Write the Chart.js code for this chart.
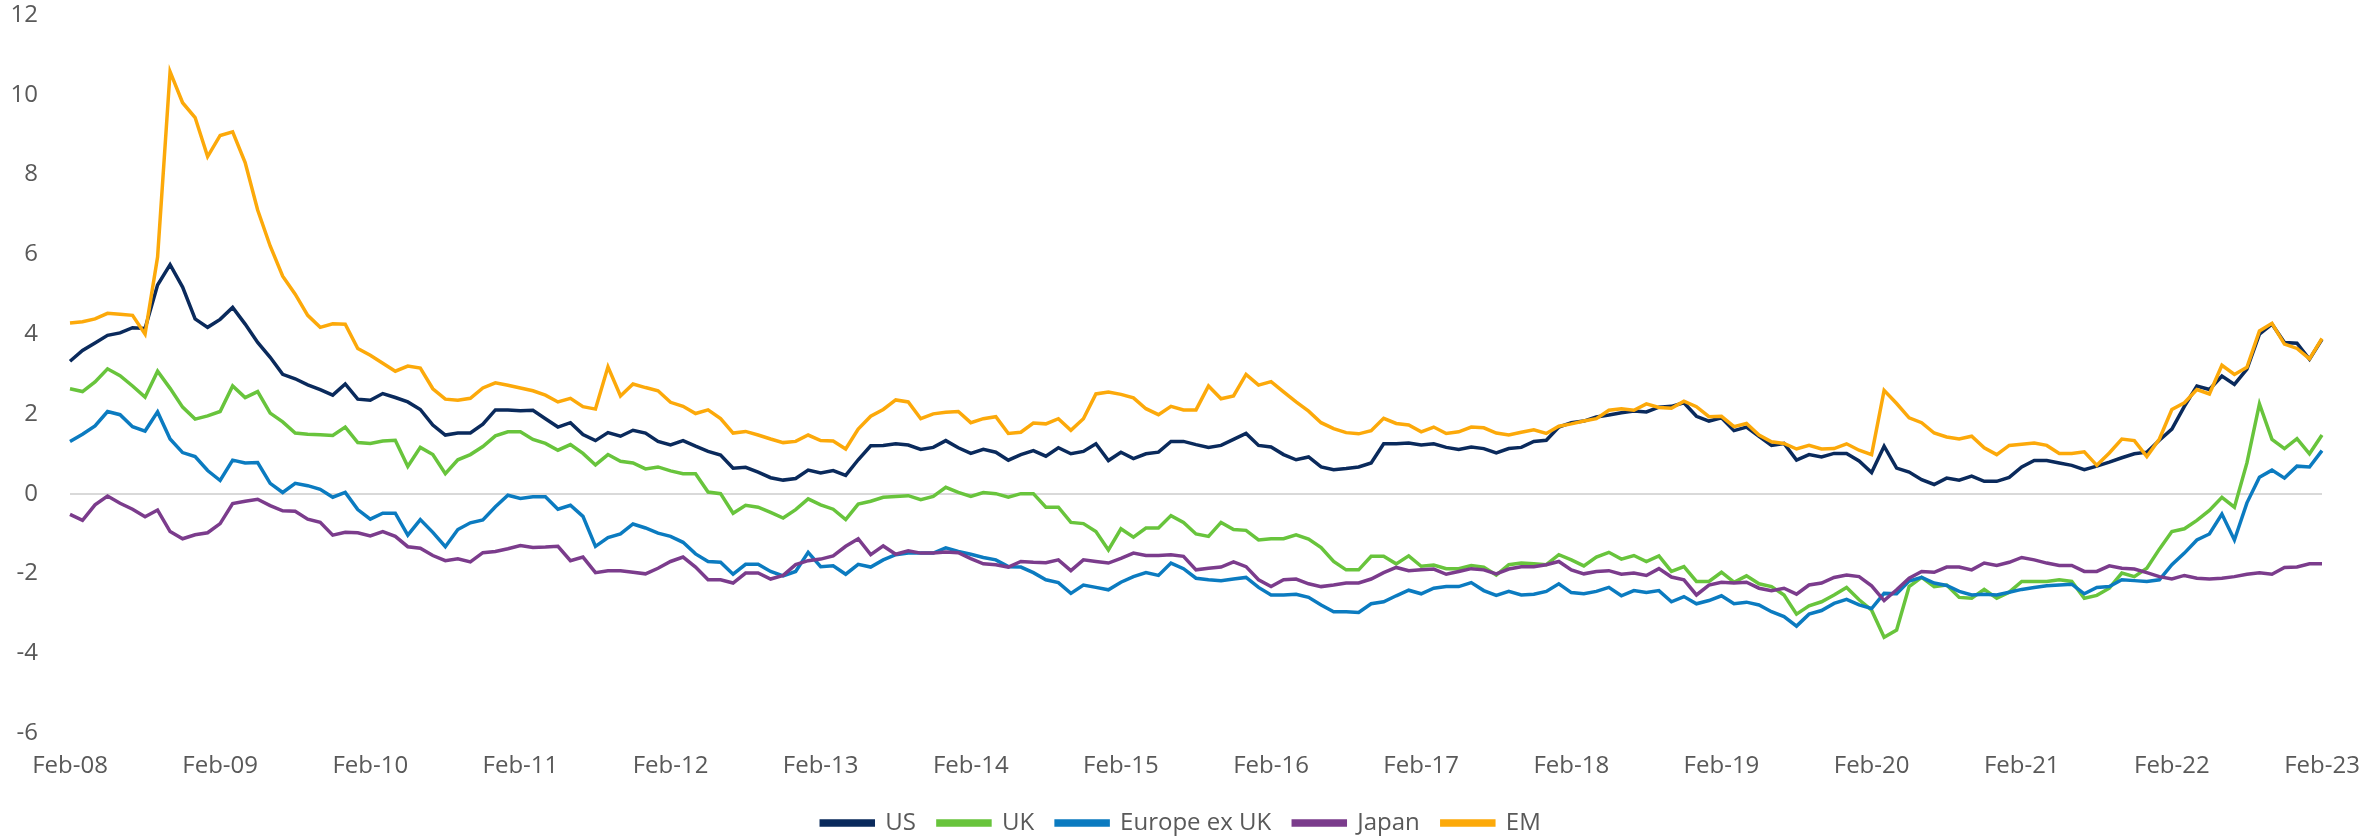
<!DOCTYPE html>
<html>
<head>
<meta charset="utf-8">
<script src="https://cdn.jsdelivr.net/npm/chart.js@4.4.0/dist/chart.umd.min.js"></script>
<style>
  html, body { margin: 0; padding: 0; background: #fff; }
  #wrap { width: 2362px; height: 838px; }
</style>
</head>
<body>
<div id="wrap"><canvas id="lineChart" width="2362" height="838"></canvas></div>
<script>
// monthly, Feb-08 .. Feb-23
var monthNames = ['Jan', 'Feb', 'Mar', 'Apr', 'May', 'Jun', 'Jul', 'Aug', 'Sep', 'Oct', 'Nov', 'Dec'];
var yTicks = [12, 10, 8, 6, 4, 2, 0, -2, -4, -6];

var us = [
    3.32, 3.59, 3.78, 3.97, 4.03, 4.16, 4.14, 5.23, 5.74, 5.18, 4.38, 4.17,
    4.37, 4.67, 4.25, 3.79, 3.42, 2.99, 2.88, 2.73, 2.61, 2.47, 2.75, 2.37,
    2.34, 2.51, 2.41, 2.30, 2.11, 1.72, 1.47, 1.52, 1.52, 1.74, 2.10, 2.10,
    2.08, 2.09, 1.88, 1.67, 1.78, 1.48, 1.33, 1.53, 1.44, 1.59, 1.52, 1.31,
    1.22, 1.33, 1.19, 1.06, 0.97, 0.64, 0.66, 0.54, 0.40, 0.34, 0.38, 0.59,
    0.52, 0.58, 0.46, 0.85, 1.20, 1.21, 1.25, 1.22, 1.11, 1.16, 1.33, 1.15,
    1.01, 1.11, 1.04, 0.84, 0.98, 1.08, 0.94, 1.15, 1.00, 1.06, 1.25, 0.83,
    1.04, 0.88, 1.00, 1.04, 1.31, 1.31, 1.23, 1.16, 1.21, 1.36, 1.51, 1.21,
    1.17, 0.98, 0.85, 0.92, 0.67, 0.60, 0.63, 0.67, 0.77, 1.25, 1.25, 1.27,
    1.22, 1.25, 1.16, 1.11, 1.17, 1.13, 1.02, 1.13, 1.16, 1.31, 1.34, 1.67,
    1.78, 1.82, 1.92, 1.97, 2.03, 2.07, 2.05, 2.17, 2.19, 2.28, 1.94, 1.82,
    1.90, 1.58, 1.67, 1.44, 1.21, 1.26, 0.84, 0.98, 0.92, 1.01, 1.01, 0.82,
    0.53, 1.19, 0.64, 0.54, 0.35, 0.23, 0.39, 0.34, 0.44, 0.31, 0.31, 0.41,
    0.67, 0.83, 0.83, 0.77, 0.71, 0.60, 0.69, 0.79, 0.90, 1.00, 1.04, 1.34,
    1.62, 2.19, 2.70, 2.61, 2.95, 2.74, 3.12, 4.00, 4.25, 3.79, 3.77, 3.37,
    3.87
];

var uk = [
    2.63, 2.56, 2.80, 3.13, 2.96, 2.70, 2.42, 3.07, 2.64, 2.17, 1.87, 1.95,
    2.06, 2.70, 2.41, 2.56, 2.02, 1.80, 1.52, 1.49, 1.48, 1.46, 1.67, 1.28,
    1.26, 1.32, 1.34, 0.68, 1.16, 0.98, 0.50, 0.85, 0.98, 1.18, 1.45, 1.55,
    1.55, 1.36, 1.26, 1.09, 1.23, 1.01, 0.72, 0.98, 0.81, 0.77, 0.62, 0.67,
    0.57, 0.50, 0.50, 0.04, 0.00, -0.49, -0.29, -0.34, -0.47, -0.61, -0.40, -0.13,
    -0.28, -0.39, -0.65, -0.26, -0.19, -0.09, -0.07, -0.05, -0.15, -0.07, 0.16, 0.03,
    -0.07, 0.03, 0.00, -0.09, 0.00, 0.00, -0.34, -0.34, -0.72, -0.75, -0.95, -1.41,
    -0.88, -1.09, -0.86, -0.86, -0.55, -0.72, -1.01, -1.07, -0.72, -0.90, -0.92, -1.16,
    -1.13, -1.13, -1.03, -1.14, -1.35, -1.70, -1.91, -1.91, -1.57, -1.57, -1.76, -1.56,
    -1.82, -1.79, -1.88, -1.88, -1.80, -1.84, -2.04, -1.78, -1.74, -1.76, -1.78, -1.53,
    -1.66, -1.81, -1.59, -1.47, -1.64, -1.55, -1.70, -1.56, -1.95, -1.83, -2.20, -2.20,
    -1.97, -2.22, -2.06, -2.26, -2.33, -2.54, -3.02, -2.81, -2.71, -2.54, -2.35, -2.66,
    -2.92, -3.60, -3.42, -2.33, -2.10, -2.33, -2.29, -2.60, -2.62, -2.40, -2.62, -2.47,
    -2.20, -2.20, -2.20, -2.16, -2.20, -2.62, -2.55, -2.37, -1.99, -2.08, -1.87, -1.39,
    -0.95, -0.88, -0.67, -0.42, -0.09, -0.34, 0.77, 2.25, 1.36, 1.13, 1.38, 1.00,
    1.47
];

var europeExUk = [
    1.31, 1.49, 1.70, 2.06, 1.98, 1.68, 1.57, 2.05, 1.37, 1.03, 0.93, 0.58,
    0.33, 0.84, 0.77, 0.78, 0.26, 0.03, 0.26, 0.20, 0.11, -0.09, 0.03, -0.40,
    -0.64, -0.49, -0.49, -1.04, -0.65, -0.97, -1.33, -0.90, -0.73, -0.66, -0.33, -0.04,
    -0.12, -0.08, -0.08, -0.39, -0.29, -0.57, -1.32, -1.10, -1.01, -0.76, -0.86, -0.99,
    -1.07, -1.22, -1.51, -1.70, -1.72, -2.02, -1.77, -1.77, -1.95, -2.06, -1.95, -1.47,
    -1.83, -1.81, -2.02, -1.77, -1.84, -1.66, -1.53, -1.49, -1.49, -1.49, -1.36, -1.45,
    -1.52, -1.60, -1.66, -1.83, -1.84, -1.98, -2.16, -2.23, -2.50, -2.29, -2.35, -2.41,
    -2.22, -2.08, -1.98, -2.05, -1.74, -1.88, -2.12, -2.16, -2.18, -2.14, -2.10, -2.35,
    -2.54, -2.54, -2.52, -2.60, -2.79, -2.96, -2.96, -2.98, -2.76, -2.71, -2.56, -2.42,
    -2.51, -2.37, -2.33, -2.33, -2.23, -2.43, -2.55, -2.45, -2.54, -2.52, -2.45, -2.26,
    -2.48, -2.51, -2.45, -2.35, -2.56, -2.43, -2.48, -2.43, -2.71, -2.58, -2.76, -2.68,
    -2.56, -2.76, -2.72, -2.79, -2.96, -3.08, -3.32, -3.02, -2.93, -2.75, -2.65, -2.79,
    -2.88, -2.50, -2.51, -2.19, -2.10, -2.24, -2.30, -2.45, -2.54, -2.52, -2.54, -2.47,
    -2.40, -2.35, -2.31, -2.29, -2.27, -2.51, -2.35, -2.33, -2.16, -2.18, -2.20, -2.16,
    -1.78, -1.49, -1.16, -1.01, -0.51, -1.16, -0.23, 0.41, 0.59, 0.39, 0.69, 0.67,
    1.08
];

var japan = [
    -0.52, -0.67, -0.28, -0.06, -0.24, -0.39, -0.58, -0.41, -0.95, -1.13, -1.03, -0.98,
    -0.75, -0.25, -0.19, -0.14, -0.30, -0.43, -0.44, -0.64, -0.72, -1.04, -0.97, -0.98,
    -1.06, -0.95, -1.07, -1.33, -1.37, -1.55, -1.68, -1.63, -1.71, -1.48, -1.45, -1.38,
    -1.30, -1.35, -1.34, -1.32, -1.68, -1.59, -1.98, -1.93, -1.93, -1.97, -2.01, -1.87,
    -1.70, -1.59, -1.84, -2.16, -2.16, -2.24, -1.99, -1.99, -2.14, -2.05, -1.78, -1.68,
    -1.64, -1.56, -1.32, -1.13, -1.53, -1.31, -1.52, -1.43, -1.49, -1.49, -1.46, -1.48,
    -1.63, -1.76, -1.78, -1.84, -1.70, -1.72, -1.73, -1.66, -1.93, -1.66, -1.70, -1.74,
    -1.62, -1.49, -1.55, -1.55, -1.53, -1.57, -1.91, -1.87, -1.84, -1.71, -1.83, -2.16,
    -2.33, -2.16, -2.14, -2.26, -2.33, -2.29, -2.24, -2.24, -2.14, -1.98, -1.85, -1.93,
    -1.91, -1.89, -2.02, -1.95, -1.88, -1.91, -2.01, -1.89, -1.83, -1.83, -1.78, -1.70,
    -1.91, -2.01, -1.95, -1.93, -2.02, -1.99, -2.05, -1.88, -2.09, -2.16, -2.54, -2.29,
    -2.22, -2.24, -2.22, -2.37, -2.43, -2.37, -2.52, -2.29, -2.24, -2.10, -2.04, -2.08,
    -2.31, -2.68, -2.41, -2.12, -1.95, -1.97, -1.84, -1.84, -1.91, -1.74, -1.80, -1.72,
    -1.60, -1.66, -1.74, -1.80, -1.80, -1.95, -1.95, -1.81, -1.87, -1.89, -1.98, -2.08,
    -2.14, -2.05, -2.12, -2.14, -2.12, -2.08, -2.02, -1.98, -2.02, -1.85, -1.84, -1.76,
    -1.76
];

var em = [
    4.28, 4.31, 4.38, 4.52, 4.50, 4.47, 4.00, 5.93, 10.58, 9.80, 9.43, 8.45,
    8.98, 9.07, 8.30, 7.11, 6.21, 5.45, 5.00, 4.47, 4.17, 4.26, 4.25, 3.64,
    3.47, 3.27, 3.07, 3.20, 3.15, 2.63, 2.37, 2.34, 2.39, 2.65, 2.78, 2.72,
    2.65, 2.58, 2.47, 2.30, 2.39, 2.18, 2.12, 3.18, 2.45, 2.75, 2.66, 2.58,
    2.29, 2.19, 2.01, 2.10, 1.88, 1.52, 1.56, 1.47, 1.37, 1.28, 1.31, 1.47,
    1.33, 1.32, 1.12, 1.62, 1.94, 2.11, 2.35, 2.30, 1.88, 2.00, 2.04, 2.06,
    1.78, 1.88, 1.93, 1.51, 1.54, 1.77, 1.75, 1.88, 1.59, 1.88, 2.50, 2.55,
    2.49, 2.40, 2.13, 1.98, 2.19, 2.10, 2.10, 2.70, 2.38, 2.45, 2.99, 2.72,
    2.81, 2.55, 2.30, 2.07, 1.78, 1.63, 1.53, 1.50, 1.58, 1.89, 1.76, 1.72,
    1.55, 1.67, 1.51, 1.55, 1.67, 1.65, 1.52, 1.47, 1.54, 1.60, 1.51, 1.69,
    1.75, 1.82, 1.88, 2.09, 2.13, 2.09, 2.25, 2.16, 2.14, 2.32, 2.18, 1.93,
    1.94, 1.68, 1.76, 1.47, 1.30, 1.26, 1.12, 1.21, 1.12, 1.13, 1.25, 1.09,
    0.98, 2.59, 2.26, 1.90, 1.78, 1.52, 1.42, 1.37, 1.44, 1.15, 0.98, 1.21,
    1.24, 1.27, 1.21, 1.01, 1.01, 1.05, 0.71, 1.02, 1.37, 1.33, 0.93, 1.37,
    2.11, 2.28, 2.61, 2.50, 3.22, 2.99, 3.17, 4.08, 4.27, 3.75, 3.64, 3.38,
    3.89
];

// category labels: Mon-YY
var labels = [];
for (var k = 0; k < us.length; k++) {
    var m = (1 + k) % 12;
    var yr = 8 + Math.floor((1 + k) / 12);
    labels.push(monthNames[m] + '-' + (yr < 10 ? '0' + yr : '' + yr));
}

var textColor = '#595959';
var fontFamily = "'Open Sans', 'Noto Sans', sans-serif";

function line(label, data, color, order) {
    return {
        label: label,
        data: data,
        borderColor: color,
        backgroundColor: color,
        borderWidth: 3.5,
        pointRadius: 0,
        tension: 0,
        order: order
    };
}

var ctx = document.getElementById('lineChart').getContext('2d');
var myLineChart = new Chart(ctx, {
    type: 'line',
    data: {
        labels: labels,
        datasets: [
            line('US', us, '#0a2a5c', 4),
            line('UK', uk, '#68c43c', 3),
            line('Europe ex UK', europeExUk, '#0b7bc0', 2),
            line('Japan', japan, '#7b3c8c', 1),
            line('EM', em, '#fca90a', 0)
        ]
    },
    options: {
        responsive: false,
        devicePixelRatio: 1,
        animation: false,
        layout: { padding: { left: 0, right: 0, top: 0, bottom: -7 } },
        plugins: {
            tooltip: { enabled: false },
            legend: {
                position: 'bottom',
                labels: {
                    sort: function (a, b) { return a.datasetIndex - b.datasetIndex; },
                    boxWidth: 52,
                    boxHeight: 4,
                    padding: 22,
                    color: textColor,
                    font: { family: fontFamily, size: 24 }
                }
            }
        },
        scales: {
            x: {
                offset: false,
                grid: { display: false },
                border: { display: false },
                ticks: {
                    autoSkip: false,
                    maxRotation: 0,
                    padding: 11,
                    color: textColor,
                    font: { family: fontFamily, size: 24 },
                    callback: function (v, i) { return i % 12 === 0 ? labels[i] : null; }
                },
                afterFit: function (axis) {
                    axis.height = 56;
                    axis.paddingRight = 40;
                }
            },
            y: {
                min: -6,
                max: 12,
                afterBuildTicks: function (axis) {
                    axis.ticks = yTicks.map(function (v) { return { value: v }; });
                },
                afterFit: function (axis) {
                    axis.width = 70;
                    axis.paddingTop = 15;
                    axis.paddingBottom = 0;
                },
                grid: {
                    drawTicks: false,
                    lineWidth: 2,
                    color: function (c) { return c.tick && c.tick.value === 0 ? '#d9d9d9' : 'rgba(0,0,0,0)'; }
                },
                border: { display: false },
                ticks: {
                    padding: 32,
                    color: textColor,
                    font: { family: fontFamily, size: 24 }
                }
            }
        }
    }
});
</script>
</body>
</html>
